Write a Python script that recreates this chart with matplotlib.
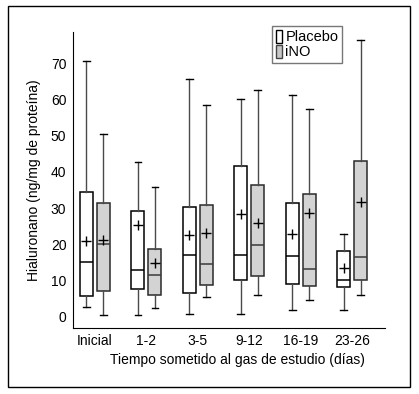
import numpy as np
import matplotlib
matplotlib.use('Agg')
from matplotlib import pyplot as plt
from matplotlib.patches import Patch, Rectangle

# %% -----------------------------------------------------------------------------------------------
# Data (ng/mg de proteina)

grupos = ['Inicial', '1-2', '3-5', '9-12', '16-19', '23-26']

# placebo: whisker low, q1, median, q3, whisker high, mean
plac_wlo = [2.8, 0.6, 0.9, 0.7, 1.9, 1.8]
plac_q1 = [5.7, 7.6, 6.7, 10.1, 9.0, 8.3]
plac_med = [15.0, 12.8, 17.0, 17.2, 16.7, 10.1]
plac_q3 = [34.5, 29.3, 30.4, 41.6, 31.5, 18.2]
plac_whi = [70.7, 42.8, 65.6, 60.2, 61.2, 23.0]
plac_mean = [20.9, 25.3, 22.5, 28.4, 22.9, 13.4]

# iNO
ino_wlo = [0.6, 2.4, 5.6, 6.0, 4.5, 6.1]
ino_q1 = [7.0, 5.9, 8.7, 11.2, 8.6, 10.2]
ino_med = [20.0, 11.6, 14.7, 19.7, 13.1, 16.5]
ino_q3 = [31.5, 18.8, 30.8, 36.3, 34.0, 43.1]
ino_whi = [50.6, 35.8, 58.4, 62.7, 57.5, 76.5]
ino_mean = [21.2, 14.8, 23.2, 25.9, 28.8, 31.7]


def make_stats(wlo, q1, med, q3, whi, mean):
    stats = []
    for i in range(len(wlo)):
        stats.append(dict(whislo=wlo[i], q1=q1[i], med=med[i], q3=q3[i],
                          whishi=whi[i], mean=mean[i], fliers=[]))
    return stats


# %% -----------------------------------------------------------------------------------------------
# Plot

plt.rcParams['font.family'] = ['Liberation Sans', 'DejaVu Sans']
fig = plt.figure(figsize=[4.19, 3.94], dpi=100)
ax = fig.add_axes([0.175, 0.1675, 0.744, 0.7515])

pos = np.arange(len(grupos))
off = 0.165
wid = 0.25

common = dict(widths=wid, showmeans=True, patch_artist=True, showfliers=False,
              capwidths=0.13,
              whiskerprops=dict(color='#4a4a4a', lw=1.0),
              capprops=dict(color='black', lw=1.0),
              meanprops=dict(marker='+', markeredgecolor='black', markersize=7, mew=1.0))

ax.bxp(make_stats(plac_wlo, plac_q1, plac_med, plac_q3, plac_whi, plac_mean),
       positions=pos - off,
       boxprops=dict(facecolor='white', edgecolor='black', lw=1.1),
       medianprops=dict(color='black', lw=1.1), **common)
ax.bxp(make_stats(ino_wlo, ino_q1, ino_med, ino_q3, ino_whi, ino_mean),
       positions=pos + off,
       boxprops=dict(facecolor='#d3d3d3', edgecolor='#2a2a2a', lw=1.1),
       medianprops=dict(color='#3a3a3a', lw=1.1), **common)

ax.set_xlim(-0.42, 5.64)
ax.set_ylim(-3.1, 78.7)
ax.set_xticks(pos)
ax.set_xticklabels(grupos, fontsize=10)
ax.set_yticks(np.arange(0, 71, 10))
ax.tick_params(axis='both', length=0, labelsize=10)
ax.tick_params(axis='y', pad=5)
ax.tick_params(axis='x', pad=4)
ax.spines['top'].set_visible(False)
ax.spines['right'].set_visible(False)
ax.set_ylabel('Hialuronano (ng/mg de proteína)', fontsize=10, labelpad=7)
ax.set_xlabel('Tiempo sometido al gas de estudio (días)', fontsize=10)
ax.xaxis.set_label_coords(0.526, -0.083)

# legend
handles = [Patch(facecolor='white', edgecolor='black', lw=1.0),
           Patch(facecolor='#c8c8c8', edgecolor='#444444', lw=1.0)]
leg = ax.legend(handles, ['Placebo', 'iNO'], loc='upper left',
                bbox_to_anchor=(0.638, 1.02), fontsize=10.5, frameon=True, fancybox=False,
                handlelength=0.45, handleheight=1.0, handletextpad=0.2,
                borderpad=0.25, labelspacing=0.05, borderaxespad=0.0)
leg.get_frame().set_edgecolor('#555555')
leg.get_frame().set_linewidth(1.0)

# outer border
fig.patches.append(Rectangle((0.019, 0.018), 0.96, 0.967, transform=fig.transFigure,
                             fill=False, edgecolor='black', lw=1.0))

fig.savefig('out.png', dpi=100)
